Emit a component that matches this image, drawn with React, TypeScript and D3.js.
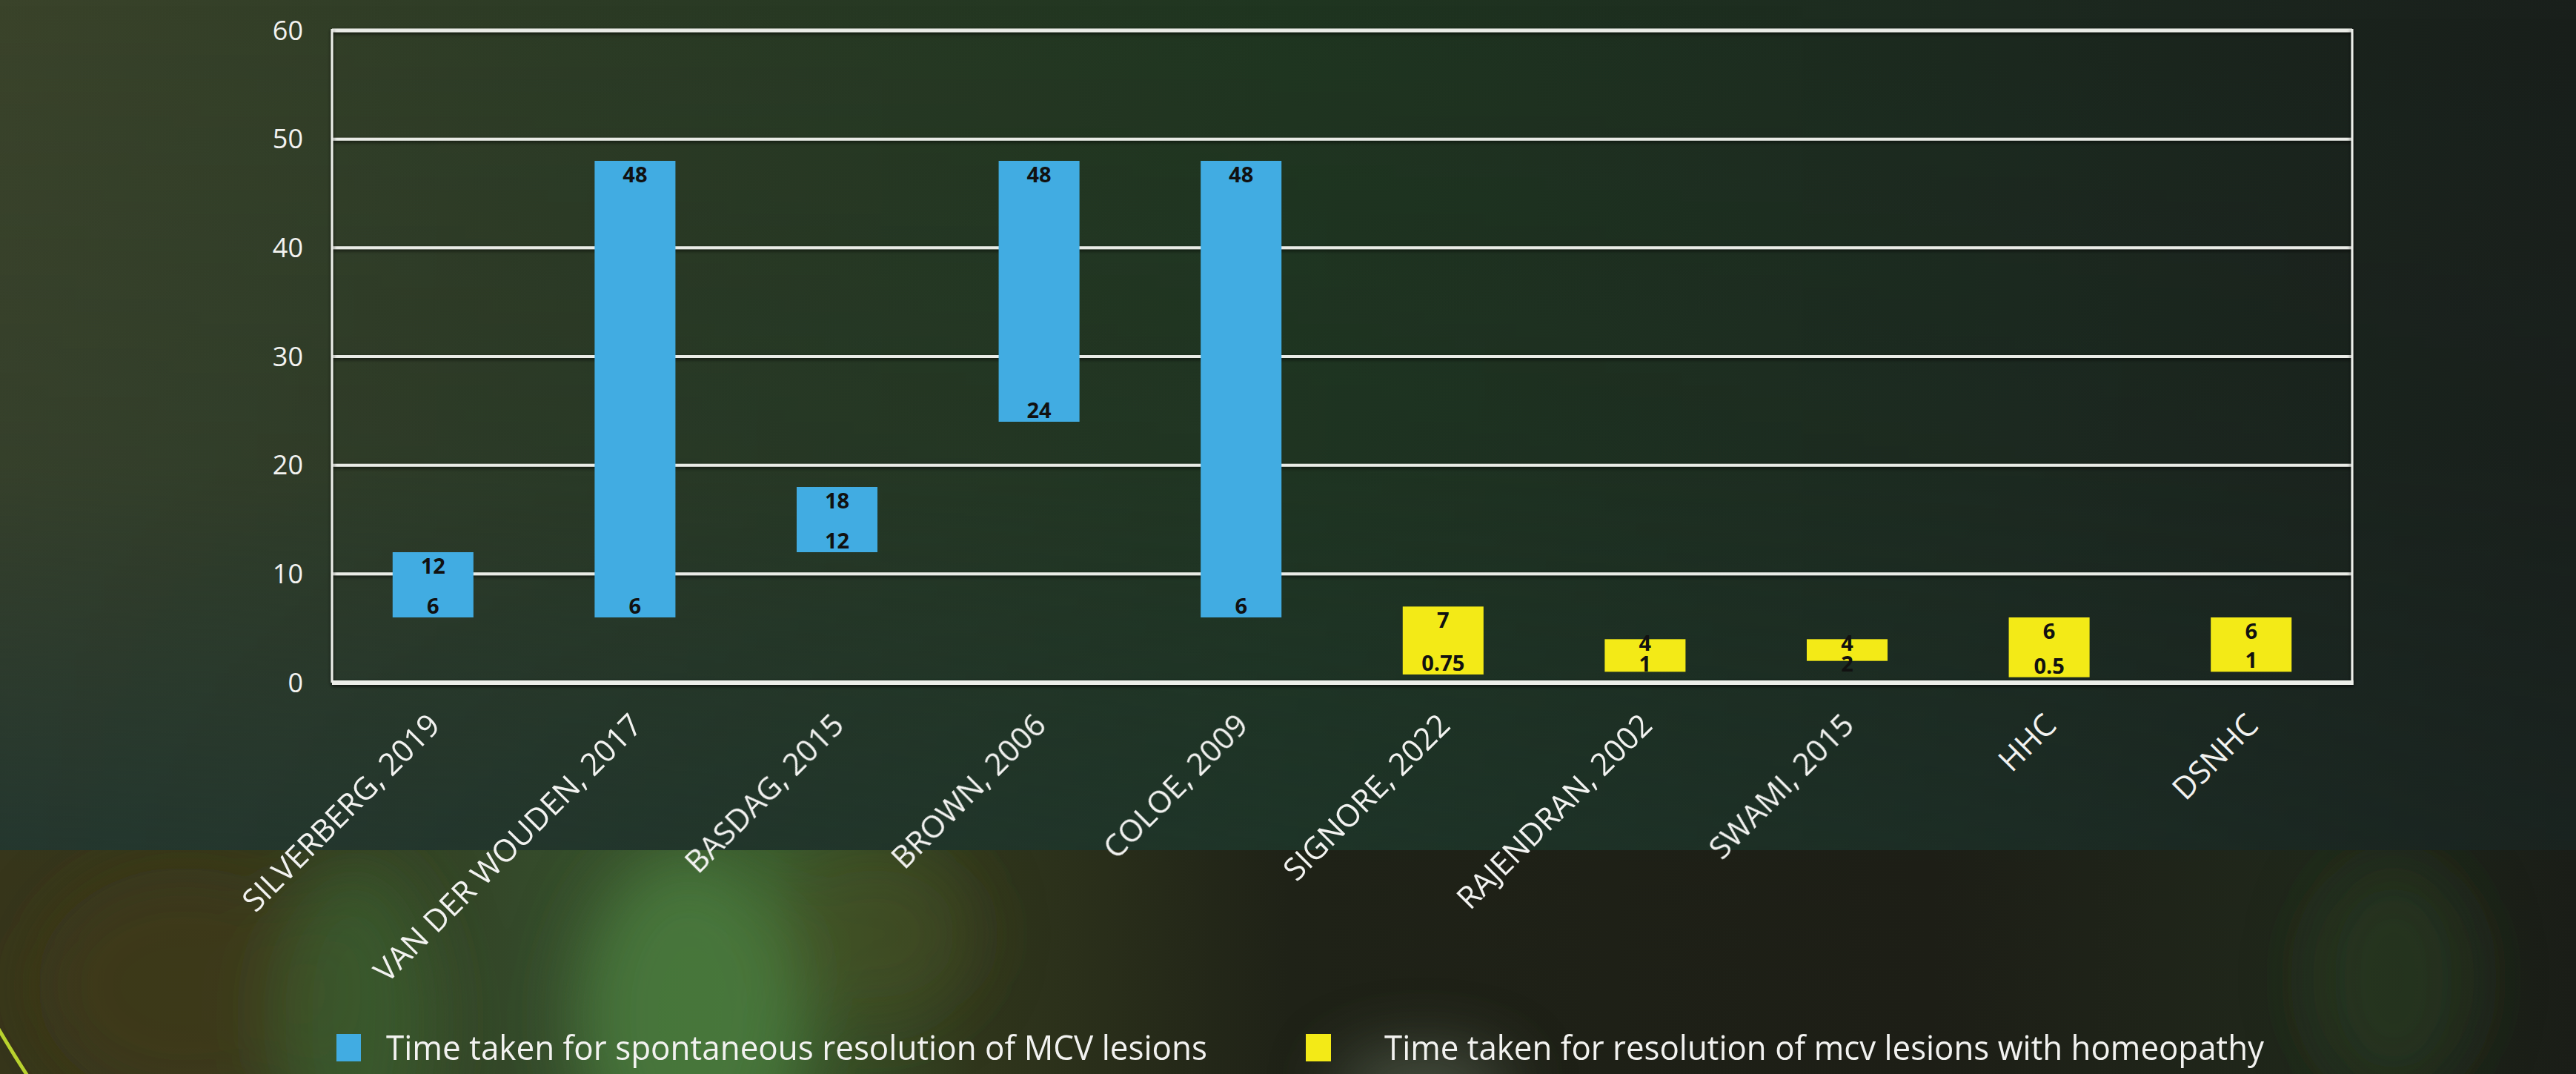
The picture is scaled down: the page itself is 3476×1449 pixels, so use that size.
import React from "react";
import * as d3 from "d3";

const W = 3476;
const H = 1449;

const categories = [
  "SILVERBERG, 2019",
  "VAN DER WOUDEN, 2017",
  "BASDAG, 2015",
  "BROWN, 2006",
  "COLOE, 2009",
  "SIGNORE, 2022",
  "RAJENDRAN, 2002",
  "SWAMI, 2015",
  "HHC",
  "DSNHC",
];
const lowValues = [6, 6, 12, 24, 6, 0.75, 1, 2, 0.5, 1];
const highValues = [12, 48, 18, 48, 48, 7, 4, 4, 6, 6];
const seriesOf = [0, 0, 0, 0, 0, 1, 1, 1, 1, 1];
const seriesNames = [
  "Time taken for spontaneous resolution of MCV  lesions",
  "Time taken for resolution of mcv lesions with homeopathy",
];
const seriesColors = ["#41ace2", "#f3ea17"];
const yTicks = [0, 10, 20, 30, 40, 50, 60];

const M = { left: 448, right: 3174, top: 41, bottom: 921 };

export default function App() {
  const x = d3
    .scaleBand<string>()
    .domain(categories)
    .range([M.left, M.right])
    .paddingInner(0.6)
    .paddingOuter(0.3);
  const y = d3.scaleLinear().domain([0, 60]).range([M.bottom, M.top]);
  const bw = x.bandwidth();

  const labelFont = "'Open Sans', 'DejaVu Sans', sans-serif";

  return (
    <svg
      width={W}
      height={H}
      style={{ position: "absolute", left: 0, top: 0, display: "block" }}
    >
      <defs>
        <linearGradient id="bgTop" x1="0" y1="0" x2="1" y2="0">
          <stop offset="0" stopColor="#3a432a" />
          <stop offset="0.22" stopColor="#2c3b25" />
          <stop offset="0.5" stopColor="#1f3520" />
          <stop offset="0.78" stopColor="#1c291f" />
          <stop offset="1" stopColor="#191f1b" />
        </linearGradient>
        <linearGradient id="bgTopV" x1="0" y1="0" x2="0" y2="1">
          <stop offset="0" stopColor="#1d3032" stopOpacity="0" />
          <stop offset="0.55" stopColor="#1d3032" stopOpacity="0.15" />
          <stop offset="1" stopColor="#1d3330" stopOpacity="0.75" />
        </linearGradient>
        <linearGradient id="bgTopVmask" x1="0" y1="0" x2="1" y2="0">
          <stop offset="0" stopColor="#fff" stopOpacity="1" />
          <stop offset="0.55" stopColor="#fff" stopOpacity="0.6" />
          <stop offset="1" stopColor="#fff" stopOpacity="0.3" />
        </linearGradient>
        <mask id="vmask">
          <rect x={0} y={0} width={W} height={1147} fill="url(#bgTopVmask)" />
        </mask>
        <linearGradient id="bgBot" x1="0" y1="0" x2="1" y2="0">
          <stop offset="0" stopColor="#37361b" />
          <stop offset="0.1" stopColor="#35381c" />
          <stop offset="0.2" stopColor="#34492a" />
          <stop offset="0.3" stopColor="#3a5a2c" />
          <stop offset="0.38" stopColor="#30361c" />
          <stop offset="0.5" stopColor="#1f2217" />
          <stop offset="0.75" stopColor="#1d1e16" />
          <stop offset="0.9" stopColor="#20281b" />
          <stop offset="1" stopColor="#1a1d17" />
        </linearGradient>
        <filter
          id="blur"
          filterUnits="userSpaceOnUse"
          x={-200}
          y={900}
          width={W + 400}
          height={800}
        >
          <feGaussianBlur stdDeviation="45" />
        </filter>
        <clipPath id="botClip">
          <rect x={0} y={1147} width={W} height={H - 1147} />
        </clipPath>
        <filter id="lineShadow" x="-1%" y="-200%" width="102%" height="500%">
          <feDropShadow dx="0" dy="2" stdDeviation="2.5" floodColor="#000" floodOpacity="0.7" />
        </filter>
      </defs>

      {/* background */}
      <rect x={0} y={0} width={W} height={1147} fill="url(#bgTop)" />
      <rect x={0} y={0} width={W} height={1147} fill="url(#bgTopV)" mask="url(#vmask)" />
      <rect x={0} y={1147} width={W} height={H - 1147} fill="url(#bgBot)" />
      <g clipPath="url(#botClip)">
        <g filter="url(#blur)">
          <ellipse cx={250} cy={1330} rx={200} ry={160} fill="#45391a" opacity={0.45} />
          <ellipse cx={480} cy={1380} rx={110} ry={220} fill="#3d6834" opacity={0.6} />
          <ellipse cx={930} cy={1370} rx={150} ry={220} fill="#4d8242" opacity={0.75} />
          <ellipse cx={1180} cy={1260} rx={140} ry={120} fill="#4a5424" opacity={0.45} />
          <ellipse cx={1920} cy={1470} rx={120} ry={50} fill="#6e7e6a" opacity={0.55} />
          <ellipse cx={3230} cy={1320} rx={110} ry={160} fill="#2c4622" opacity={0.45} />
        </g>
      </g>
      <path d="M -8 1378 Q 14 1416 40 1456" fill="none" stroke="#b9d22e" strokeWidth={5} />

      {/* grid lines */}
      <g filter="url(#lineShadow)">
        {yTicks
          .filter((t) => t > 0)
          .map((t) => (
            <line
              key={t}
              x1={M.left}
              x2={M.right}
              y1={y(t)}
              y2={y(t)}
              stroke="#e9ebe6"
              strokeWidth={t === 60 ? 5 : 4}
            />
          ))}
      </g>

      {/* bars */}
      {categories.map((c, i) => {
        const top = y(highValues[i]);
        const bot = y(lowValues[i]);
        return (
          <rect
            key={c}
            x={x(c)}
            y={top}
            width={bw}
            height={bot - top}
            fill={seriesColors[seriesOf[i]]}
          />
        );
      })}

      {/* frame */}
      <g filter="url(#lineShadow)">
        <line x1={M.left} x2={M.left} y1={M.top - 2} y2={M.bottom} stroke="#eceee9" strokeWidth={3} />
        <line x1={M.right} x2={M.right} y1={M.top - 2} y2={M.bottom + 3} stroke="#eceee9" strokeWidth={3} />
        <line x1={M.left} x2={M.right + 1.5} y1={M.bottom} y2={M.bottom} stroke="#eceee9" strokeWidth={6} />
      </g>

      {/* bar value labels */}
      {categories.map((c, i) => {
        const cx = (x(c) as number) + bw / 2;
        const top = y(highValues[i]);
        const bot = y(lowValues[i]);
        let tb = top + 29;
        let bb = bot - 5;
        if (bb - tb < 26) {
          tb = top + 16;
          bb = top + 44;
        }
        return (
          <g key={c} fontFamily={labelFont} fontWeight={700} fontSize={29} fill="#111" textAnchor="middle">
            <text x={cx} y={tb}>{highValues[i]}</text>
            <text x={cx} y={bb}>{lowValues[i]}</text>
          </g>
        );
      })}

      {/* y axis labels */}
      <g fontFamily={labelFont} fontSize={36} fill="#f2f2f0" textAnchor="end">
        {yTicks.map((t) => (
          <text key={t} x={409} y={y(t)} dy="0.35em">
            {t}
          </text>
        ))}
      </g>

      {/* x axis labels */}
      <g fontFamily={labelFont} fontSize={42} fill="#f2f2f0" textAnchor="end">
        {categories.map((c) => {
          const px = (x(c) as number) + bw / 2 + 12;
          const py = M.bottom + 60;
          return (
            <text key={c} transform={`translate(${px},${py}) rotate(-45)`}>
              {c}
            </text>
          );
        })}
      </g>

      {/* legend */}
      <g fontFamily={labelFont} fontSize={45} fill="#f2f2f0">
        <rect x={454} y={1395} width={33} height={37} fill={seriesColors[0]} />
        <text x={521} y={1430} textLength={1108} lengthAdjust="spacingAndGlyphs">
          {seriesNames[0]}
        </text>
        <rect x={1762} y={1395} width={34} height={37} fill={seriesColors[1]} />
        <text x={1868} y={1430} textLength={1187} lengthAdjust="spacingAndGlyphs">
          {seriesNames[1]}
        </text>
      </g>
    </svg>
  );
}
